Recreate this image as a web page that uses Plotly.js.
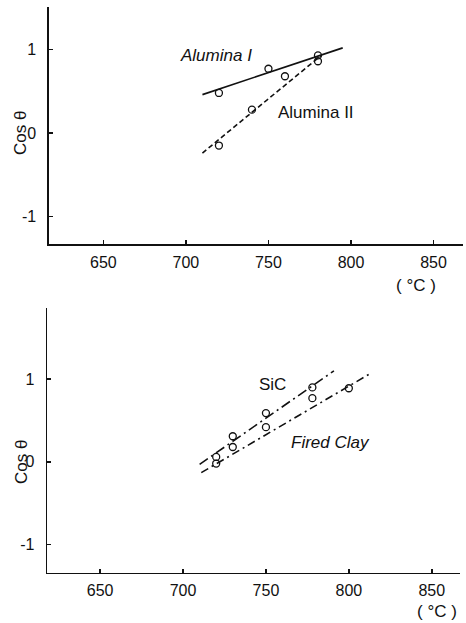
<!DOCTYPE html>
<html>
<head>
<meta charset="utf-8">
<script src="https://cdn.plot.ly/plotly-3.0.1.min.js"></script>
<style>html,body{margin:0;padding:0;background:#fff;}#chart{width:466px;height:623px;}</style>
</head>
<body>
<div id="chart"></div>
<script>
// ---- data ----
var xTickVals = [650, 700, 750, 800, 850];
var xTickText = ['650', '700', '750', '800', '850'];
var yTickVals = [-1, 0, 1];
var yTickText = ['-1', '0', '1'];

// top panel
var aluminaIX = [720, 750, 780];
var aluminaIY = [0.48, 0.77, 0.93];
var aluminaIFitX = [710, 795];
var aluminaIFitY = [0.46, 1.02];
var aluminaIIX = [720, 740, 760, 780];
var aluminaIIY = [-0.15, 0.28, 0.68, 0.86];
var aluminaIIFitX = [710, 782];
var aluminaIIFitY = [-0.24, 0.93];

// bottom panel
var sicX = [720, 730, 750, 778];
var sicY = [0.06, 0.31, 0.59, 0.90];
var sicFitX = [710, 791];
var sicFitY = [-0.03, 1.10];
var clayX = [720, 730, 750, 778, 800];
var clayY = [-0.02, 0.18, 0.42, 0.77, 0.89];
var clayFitX = [711, 814];
var clayFitY = [-0.13, 1.08];

var seriesLabels = ['Alumina I', 'Alumina II', 'SiC', 'Fired Clay'];
var yTitle = 'Cos θ';
var xUnit = '( °C )';

// ---- chart ----
var FONT = 'Liberation Sans, Arial, sans-serif';
function pts(x, y, xa, ya) {
  return {x: x, y: y, xaxis: xa, yaxis: ya, type: 'scatter', mode: 'markers', showlegend: false,
    marker: {symbol: 'circle-open', size: 7, color: '#111', line: {width: 1.3, color: '#111'}}, hoverinfo: 'skip'};
}
function fit(x, y, xa, ya, dash) {
  return {x: x, y: y, xaxis: xa, yaxis: ya, type: 'scatter', mode: 'lines', showlegend: false,
    line: {color: '#111', width: 1.6, dash: dash}, hoverinfo: 'skip'};
}
var traces = [
  fit(aluminaIFitX, aluminaIFitY, 'x', 'y', 'solid'),
  pts(aluminaIX, aluminaIY, 'x', 'y'),
  fit(aluminaIIFitX, aluminaIIFitY, 'x', 'y', '5px,3px'),
  pts(aluminaIIX, aluminaIIY, 'x', 'y'),
  fit(sicFitX, sicFitY, 'x2', 'y2', '10px,4px,2px,4px'),
  pts(sicX, sicY, 'x2', 'y2'),
  fit(clayFitX, clayFitY, 'x2', 'y2', '8px,4px,2px,4px'),
  pts(clayX, clayY, 'x2', 'y2')
];

function xax(domain, range, anchor) {
  return {domain: domain, range: range, anchor: anchor, tickmode: 'array', tickvals: xTickVals, ticktext: xTickText,
    showgrid: false, zeroline: false, showline: true, linecolor: '#111', linewidth: 1.5,
    ticks: 'inside', ticklen: 4, tickwidth: 1.5, tickcolor: '#111', ticklabelstandoff: 3,
    tickfont: {family: FONT, size: 16, color: '#111'}};
}
function yax(domain, range, anchor) {
  return {domain: domain, range: range, anchor: anchor, tickmode: 'array', tickvals: yTickVals, ticktext: yTickText,
    showgrid: false, zeroline: false, showline: true, linecolor: '#111', linewidth: 1.5,
    ticks: 'inside', ticklen: 4, tickwidth: 1.5, tickcolor: '#111', ticklabelstandoff: 8,
    tickfont: {family: FONT, size: 16, color: '#111'}};
}

var ann = function (x, y, xref, yref, text, italic, angle) {
  return {x: x, y: y, xref: xref, yref: yref, text: italic ? '<i>' + text + '</i>' : text, showarrow: false,
    textangle: angle || 0, xanchor: 'center', yanchor: 'middle',
    font: {family: FONT, size: 17, color: '#111'}};
};

var layout = {
  width: 466, height: 623,
  margin: {l: 0, r: 0, t: 0, b: 0},
  paper_bgcolor: '#fff', plot_bgcolor: '#fff',
  showlegend: false,
  xaxis: xax([0.105, 0.994], [617, 868], 'y'),
  yaxis: yax([0.6083, 0.9888], [-1.33, 1.51], 'x'),
  xaxis2: xax([0.101, 0.987], [618, 867], 'y2'),
  yaxis2: yax([0.0807, 0.5056], [-1.34, 1.86], 'x2'),
  annotations: [
    ann(718, 0.93, 'x', 'y', seriesLabels[0], true),
    ann(779, 0.25, 'x', 'y', seriesLabels[1], false),
    ann(754, 0.93, 'x2', 'y2', seriesLabels[2], false),
    ann(789, 0.24, 'x2', 'y2', seriesLabels[3], true),
    ann(0.043, 0.7865, 'paper', 'paper', yTitle, false, -90),
    ann(0.045, 0.2584, 'paper', 'paper', yTitle, false, -90),
    ann(0.8927, 0.5425, 'paper', 'paper', xUnit, false),
    ann(0.9378, 0.0177, 'paper', 'paper', xUnit, false)
  ]
};

Plotly.newPlot('chart', traces, layout, {staticPlot: true, displayModeBar: false});
</script>
</body>
</html>
